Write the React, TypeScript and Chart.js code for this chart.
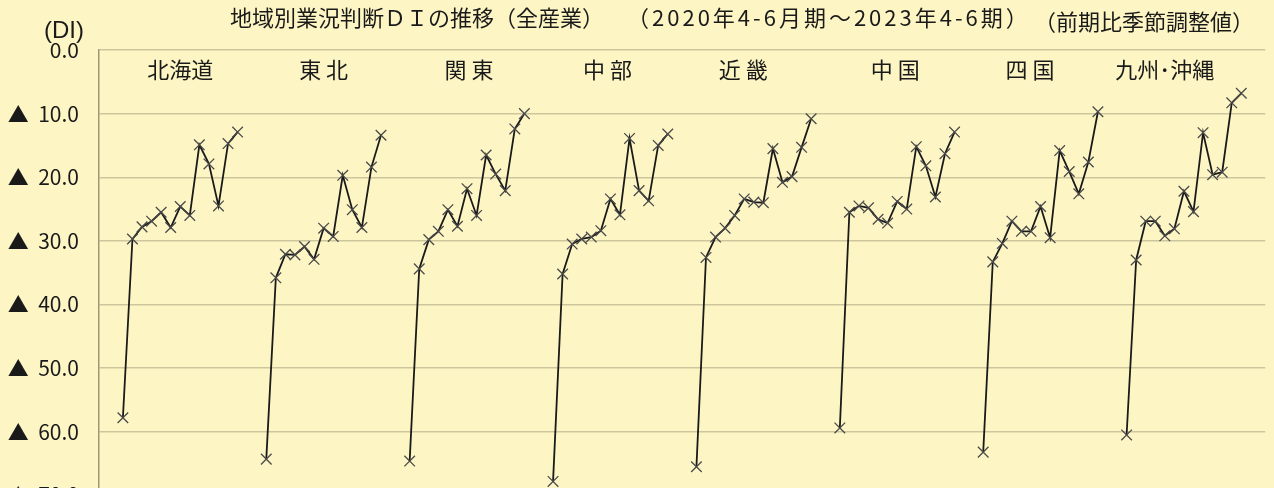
import React, { useEffect, useRef } from "react";
import { Chart, registerables } from "chart.js";

Chart.register(...registerables);

// ---- data ----
const regions = ["北海道", "東 北", "関 東", "中 部", "近 畿", "中 国", "四 国", "九州･沖縄"];
const quarters = [
  "2020年4-6月", "2020年7-9月", "2020年10-12月",
  "2021年1-3月", "2021年4-6月", "2021年7-9月", "2021年10-12月",
  "2022年1-3月", "2022年4-6月", "2022年7-9月", "2022年10-12月",
  "2023年1-3月", "2023年4-6月",
];
const hokkaido = [-57.8, -29.7, -27.8, -26.9, -25.5, -27.9, -24.6, -26.0, -14.9, -17.9, -24.5, -14.7, -12.9];
const tohoku = [-64.3, -35.8, -32.1, -32.2, -30.9, -32.9, -28.0, -29.3, -19.7, -25.1, -27.9, -18.4, -13.4];
const kanto = [-64.6, -34.4, -29.8, -28.5, -25.1, -27.7, -21.8, -26.0, -16.5, -19.5, -22.1, -12.4, -10.0];
const chubu = [-67.8, -35.2, -30.5, -29.7, -29.4, -28.4, -23.4, -25.9, -13.9, -22.1, -23.7, -15.0, -13.2];
const kinki = [-65.5, -32.6, -29.4, -28.0, -26.0, -23.4, -23.9, -24.0, -15.5, -20.8, -19.9, -15.3, -10.8];
const chugoku = [-59.4, -25.5, -24.5, -24.8, -26.6, -27.2, -23.8, -25.0, -15.2, -18.2, -23.1, -16.3, -12.9];
const shikoku = [-63.2, -33.3, -30.4, -26.9, -28.5, -28.5, -24.6, -29.5, -15.8, -19.1, -22.6, -17.6, -9.7];
const kyushu = [-60.5, -33.0, -26.9, -26.9, -29.2, -28.1, -22.2, -25.4, -13.0, -19.6, -19.2, -8.3, -6.8];
const seriesByRegion = [hokkaido, tohoku, kanto, chubu, kinki, chugoku, shikoku, kyushu];

const yMin = -70;
const yMax = 0;
const yStep = 10;

const titleText = "地域別業況判断ＤＩの推移（全産業）";
const periodText = "（2020年4-6月期～2023年4-6期）";
const noteText = "（前期比季節調整値）";
const unitText = "(DI)";

// ---- layout constants ----
const GAP = 2; // empty category slots before each regional block
const regionLabelShift = [0, 0, 0.2, -0.3, -1.1, -0.2, -1.1, -2.0]; // in category slots

// ---- styles ----
const BG = "#fdf6c4";
const GRID = "#cdc69c";
const AXIS = "#9d967a";
const INK = "#1a1a1a";
const JP_FONT = '"Noto Sans CJK JP", "Noto Sans", sans-serif';
const NUM_FONT = '"Liberation Sans", Arial, sans-serif';

// build category labels and values
const labels: string[] = [];
const values: (number | null)[] = [];
const regionStart: number[] = [];
regions.forEach((r, ri) => {
  for (let g = 0; g < GAP; g++) {
    labels.push("");
    values.push(null);
  }
  regionStart.push(labels.length);
  quarters.forEach((q, qi) => {
    labels.push(r + " " + q);
    values.push(seriesByRegion[ri][qi]);
  });
});
for (let g = 0; g < GAP; g++) {
  labels.push("");
  values.push(null);
}

const textPlugin = {
  id: "textPlugin",
  beforeDraw(chart: any) {
    const { ctx, width, height } = chart;
    ctx.save();
    ctx.fillStyle = BG;
    ctx.fillRect(0, 0, width, height);
    ctx.restore();
  },
  afterDraw(chart: any) {
    const { ctx } = chart;
    const x = chart.scales.x;
    ctx.save();
    ctx.fillStyle = INK;
    ctx.textBaseline = "middle";
    ctx.textAlign = "left";
    ctx.font = `22px ${JP_FONT}`;
    ctx.fillText(titleText, 230, 18);
    (ctx as any).letterSpacing = "3px";
    ctx.fillText(periodText, 627, 18);
    (ctx as any).letterSpacing = "0px";
    ctx.fillText(noteText, 1034, 22);
    ctx.textAlign = "center";
    ctx.font = `24px ${NUM_FONT}`;
    ctx.fillText(unitText, 64, 31);
    ctx.font = `22px ${JP_FONT}`;
    regions.forEach((r, i) => {
      const px = x.getPixelForValue(regionStart[i] + 6 + regionLabelShift[i]);
      ctx.fillText(r, px, 70);
    });
    ctx.restore();
  },
};

export default function App() {
  const ref = useRef<HTMLCanvasElement | null>(null);
  useEffect(() => {
    if (!ref.current) return;
    const chart = new Chart(ref.current, {
      type: "line",
      data: {
        labels,
        datasets: [
          {
            data: values,
            borderColor: INK,
            borderWidth: 1.8,
            pointStyle: "crossRot",
            pointRadius: 7.5,
            pointBorderColor: "#4a4a4a",
            pointBorderWidth: 1.3,
            pointBackgroundColor: "#4a4a4a",
            spanGaps: false,
            tension: 0,
          },
        ],
      },
      options: {
        responsive: false,
        animation: false,
        layout: { padding: { top: 50, right: 0, bottom: 16, left: 0 } },
        plugins: {
          legend: { display: false },
          tooltip: { enabled: false },
          title: { display: false },
        },
        scales: {
          x: {
            type: "category",
            offset: true,
            display: false,
          },
          y: {
            min: yMin,
            max: yMax,
            ticks: {
              stepSize: yStep,
              color: INK,
              padding: 20,
              font: { size: 21, family: JP_FONT },
              callback: (v: any) => (Number(v) === 0 ? "0.0" : "▲  " + Math.abs(Number(v)).toFixed(1)),
            },
            grid: { color: GRID, lineWidth: 1.5, drawTicks: false },
            border: { display: true, color: AXIS, width: 1.5 },
            afterFit: (s: any) => {
              s.width = 99;
            },
          },
        },
      },
      plugins: [textPlugin],
    });
    return () => chart.destroy();
  }, []);
  return (
    <div
      style={{
        position: "fixed",
        left: 0,
        top: 0,
        width: 1274,
        height: 488,
        overflow: "hidden",
        background: BG,
      }}
    >
      <canvas ref={ref} width={1274} height={528} style={{ display: "block" }} />
    </div>
  );
}
